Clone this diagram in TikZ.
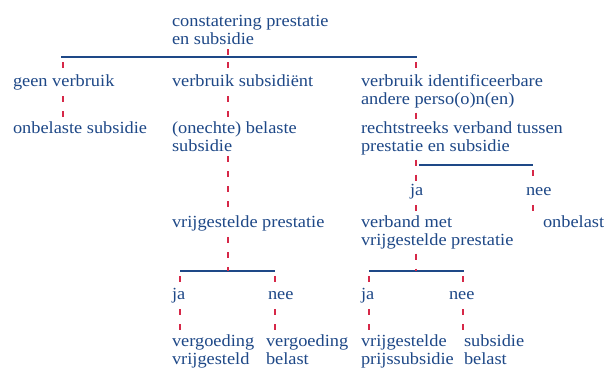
\documentclass[tikz,border=0pt]{standalone}
\usepackage{fontspec}
\setmainfont{Liberation Serif}[FakeStretch=1.08]
\definecolor{tblue}{RGB}{30,72,135}
\definecolor{tred}{RGB}{214,40,72}
\begin{document}
\begin{tikzpicture}[x=1pt,y=-1pt,
  lbl/.style={anchor=north west, inner sep=0pt, outer sep=0pt, align=left, text=tblue,
    font=\fontsize{17}{18}\selectfont},
  bar/.style={draw=tblue, line width=1.5pt},
  rd/.style={draw=tred, line width=1.2pt, dash pattern=on 6pt off 9pt, dash phase=10pt}]
\useasboundingbox (0,0) rectangle (607,367);
% nodes (y = first baseline - 12.6)
\node[lbl] (top) at (172,13.4) {\strut constatering prestatie\\en subsidie};
\node[lbl] (gv)  at (13,73.4)  {\strut geen verbruik};
\node[lbl] (vs)  at (172,73.4) {\strut verbruik subsidiënt};
\node[lbl] (vi)  at (361,73.4) {\strut verbruik identificeerbare\\andere perso(o)n(en)};
\node[lbl] (os)  at (13,120.4) {\strut onbelaste subsidie};
\node[lbl] (bs)  at (172,120.4) {\strut (onechte) belaste\\subsidie};
\node[lbl] (rv)  at (361,120.4) {\strut rechtstreeks verband tussen\\prestatie en subsidie};
\node[lbl] (ja1) at (410,182.4) {\strut ja};
\node[lbl] (nee1) at (526,182.4) {\strut nee};
\node[lbl] (vp)  at (172,214.4) {\strut vrijgestelde prestatie};
\node[lbl] (vm)  at (361,214.4) {\strut verband met\\vrijgestelde prestatie};
\node[lbl] (ob)  at (543,214.4) {\strut onbelast};
\node[lbl] (ja2) at (172,286.4) {\strut ja};
\node[lbl] (nee2) at (268,286.4) {\strut nee};
\node[lbl] (ja3) at (361,286.4) {\strut ja};
\node[lbl] (nee3) at (449,286.4) {\strut nee};
\node[lbl] (r1)  at (172,333.4) {\strut vergoeding\\vrijgesteld};
\node[lbl] (r2)  at (266,333.4) {\strut vergoeding\\belast};
\node[lbl] (r3)  at (361,333.4) {\strut vrijgestelde\\prijssubsidie};
\node[lbl] (r4)  at (464,333.4) {\strut subsidie\\belast};
% bars
\coordinate (b0l) at (61,57);  \coordinate (b0r) at (416.6,57);
\coordinate (b1l) at (419,165); \coordinate (b1r) at (532.5,165);
\coordinate (b2l) at (180,271); \coordinate (b2r) at (274.5,271);
\coordinate (b3l) at (369,271); \coordinate (b3r) at (463.5,271);
\draw[bar] (b0l) -- (b0r);
\draw[bar] (b1l) -- (b1r);
\draw[bar] (b2l) -- (b2r);
\draw[bar] (b3l) -- (b3r);
% junctions
\coordinate (jA) at (63,57);
\coordinate (jB) at (228,57);
\coordinate (jC) at (416,57);
\coordinate (jD) at (533,165);
\coordinate (jB2) at (228,271);
\coordinate (jC2) at (416,271);
\coordinate (jE) at (180,271);
\coordinate (jF) at (275,271);
\coordinate (jG) at (369,271);
\coordinate (jH) at (463,271);
% dashed connectors
\draw[rd] (top.south -| jB) -- (jB);
\draw[rd] (jA) -- (gv.north -| jA);
\draw[rd] (gv.south -| jA) -- (os.north -| jA);
\draw[rd] (jB) -- (vs.north -| jB);
\draw[rd] (vs.south -| jB) -- (bs.north -| jB);
\draw[rd] (bs.south -| jB) -- (vp.north -| jB);
\draw[rd] (vp.south -| jB) -- (jB2);
\draw[rd] (jC) -- (vi.north -| jC);
\draw[rd] (vi.south -| jC) -- (rv.north -| jC);
\draw[rd] (rv.south -| jC) -- (ja1.north -| jC);
\draw[rd] (ja1.south -| jC) -- (vm.north -| jC);
\draw[rd] (vm.south -| jC) -- (jC2);
\draw[rd] (jD) -- (nee1.north -| jD);
\draw[rd] (nee1.south -| jD) -- (ob.north -| jD);
\draw[rd] (jE) -- (ja2.north -| jE);
\draw[rd] (ja2.south -| jE) -- (r1.north -| jE);
\draw[rd] (jF) -- (nee2.north -| jF);
\draw[rd] (nee2.south -| jF) -- (r2.north -| jF);
\draw[rd] (jG) -- (ja3.north -| jG);
\draw[rd] (ja3.south -| jG) -- (r3.north -| jG);
\draw[rd] (jH) -- (nee3.north -| jH);
\draw[rd] (nee3.south -| jH) -- (r4.north -| jH);
\end{tikzpicture}
\end{document}
